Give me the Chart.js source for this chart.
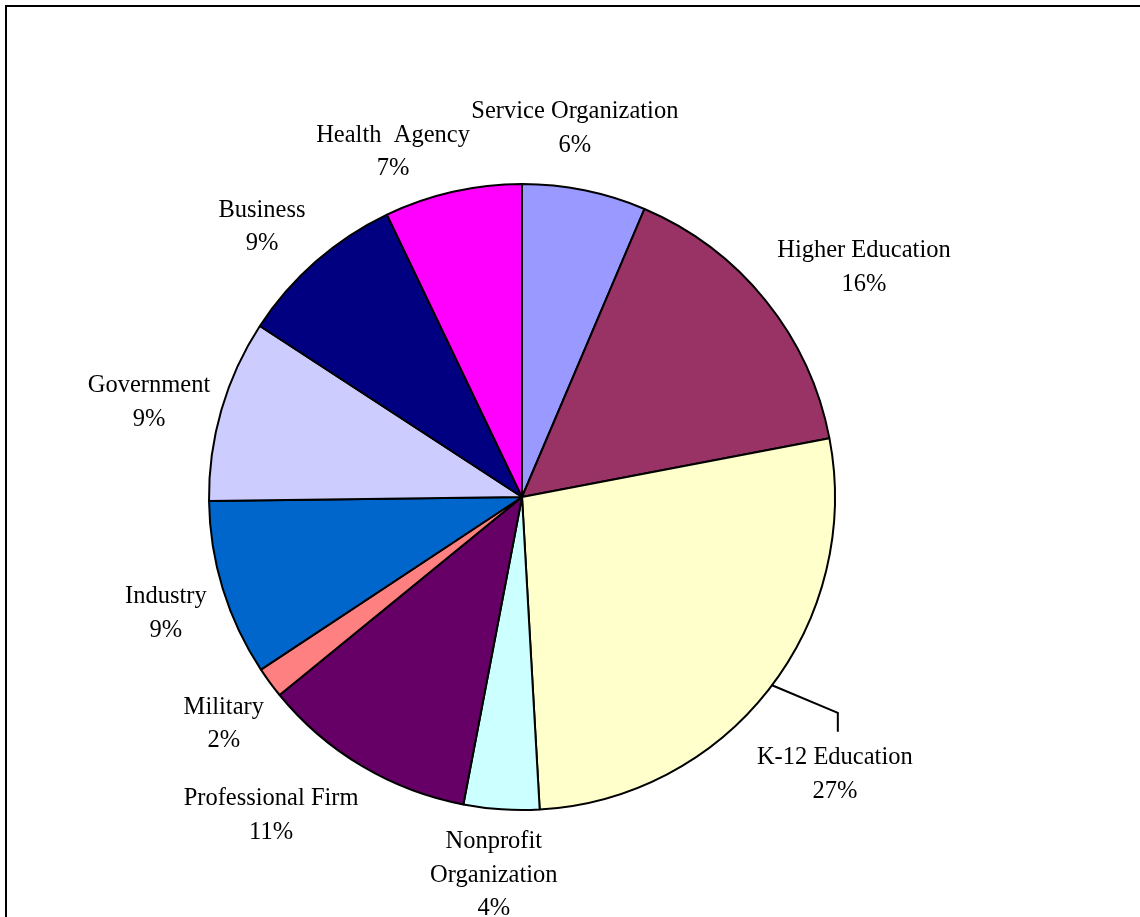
<!DOCTYPE html>
<html>
<head>
<meta charset="utf-8">
<title>Respondents by Organization Type</title>
<script src="https://cdn.jsdelivr.net/npm/chart.js@4.4.1/dist/chart.umd.min.js"></script>
<style>
  html, body { margin: 0; padding: 0; background: #ffffff; }
  #wrap { position: relative; width: 1140px; height: 917px; }
</style>
</head>
<body>
<div id="wrap"><canvas id="pie" width="1140" height="917"></canvas></div>
<script>
// Organization types, clockwise from 12 o'clock
const categories = [
  'Service Organization',
  'Higher Education',
  'K-12 Education',
  'Nonprofit Organization',
  'Professional Firm',
  'Military',
  'Industry',
  'Government',
  'Business',
  'Health Agency'
];

// Share of respondents (percent)
const shares = [6.4, 15.6, 27.1, 3.9, 11.1, 1.6, 9.1, 9.4, 8.7, 7.1];

// How each category name wraps in its label
const labelLines = [
  ['Service Organization'],
  ['Higher Education'],
  ['K-12 Education'],
  ['Nonprofit', 'Organization'],
  ['Professional Firm'],
  ['Military'],
  ['Industry'],
  ['Government'],
  ['Business'],
  ['Health  Agency']
];

const sliceColors = [
  '#9999FF', '#993366', '#FFFFCC', '#CCFFFF', '#660066',
  '#FF8080', '#0066CC', '#CCCCFF', '#000080', '#FF00FF'
];

// Label placement: angular nudge (deg) from the slice middle and distance in radii
const labelLayout = [
  { nudge: -3.4, dist: 1.196 },
  { nudge: 4.8,  dist: 1.319 },
  { nudge: 3.4,  dist: 1.332, leader: -1.0 },
  { nudge: 0.5,  dist: 1.206 },
  { nudge: 7.6,  dist: 1.291 },
  { nudge: -0.7, dist: 1.194 },
  { nudge: -0.7, dist: 1.195 },
  { nudge: -1.7, dist: 1.231 },
  { nudge: -2.5, dist: 1.202 },
  { nudge: -7.6, dist: 1.183 }
];

const LINE_H = 33.5;
const FONT = '24.5px "Liberation Serif", "Times New Roman", serif';

// Outer labels with category name and rounded percentage
const outerLabels = {
  id: 'outerLabels',
  afterDatasetsDraw(chart) {
    const ctx = chart.ctx;
    const meta = chart.getDatasetMeta(0);
    const values = chart.data.datasets[0].data;
    const total = values.reduce((a, b) => a + b, 0);
    const deg = Math.PI / 180;
    ctx.save();
    ctx.font = FONT;
    ctx.fillStyle = '#000000';
    ctx.textAlign = 'center';
    ctx.textBaseline = 'middle';
    meta.data.forEach((arc, i) => {
      const p = arc.getProps(['x', 'y', 'startAngle', 'endAngle', 'outerRadius'], true);
      const mid = (p.startAngle + p.endAngle) / 2;
      const lay = labelLayout[i];
      const a = mid + lay.nudge * deg;
      const cx = p.x + Math.cos(a) * p.outerRadius * lay.dist;
      const cy = p.y + Math.sin(a) * p.outerRadius * lay.dist;
      const lines = labelLines[i].concat([Math.round(values[i] * 100 / total) + '%']);
      const top = cy - (lines.length - 1) * LINE_H / 2;
      lines.forEach((t, k) => ctx.fillText(t, cx, top + k * LINE_H + 2));
      if (lay.leader !== undefined) {
        const la = mid + lay.leader * deg;
        const sx = p.x + Math.cos(la) * p.outerRadius;
        const sy = p.y + Math.sin(la) * p.outerRadius;
        ctx.beginPath();
        ctx.lineWidth = 2;
        ctx.strokeStyle = '#000000';
        ctx.moveTo(sx, sy);
        ctx.lineTo(cx + 3, top - 43);
        ctx.lineTo(cx + 3, top - 24);
        ctx.stroke();
      }
    });
    ctx.restore();
  }
};

// Frame edges along the top and left of the chart
const frame = {
  id: 'frame',
  beforeDraw(chart) {
    const ctx = chart.ctx;
    ctx.save();
    ctx.fillStyle = '#ffffff';
    ctx.fillRect(0, 0, chart.width, chart.height);
    ctx.strokeStyle = '#000000';
    ctx.lineWidth = 2;
    ctx.beginPath();
    ctx.moveTo(6, chart.height);
    ctx.lineTo(6, 6);
    ctx.lineTo(chart.width, 6);
    ctx.stroke();
    ctx.restore();
  }
};

new Chart(document.getElementById('pie'), {
  type: 'pie',
  data: {
    labels: categories,
    datasets: [{
      data: shares,
      backgroundColor: sliceColors,
      borderColor: '#000000',
      borderWidth: 2,
      borderAlign: 'center'
    }]
  },
  options: {
    responsive: false,
    animation: false,
    radius: 313,
    layout: { padding: { left: 0, right: 96, top: 77, bottom: 0 } },
    plugins: {
      legend: { display: false },
      tooltip: { enabled: false }
    }
  },
  plugins: [frame, outerLabels]
});
</script>
</body>
</html>
